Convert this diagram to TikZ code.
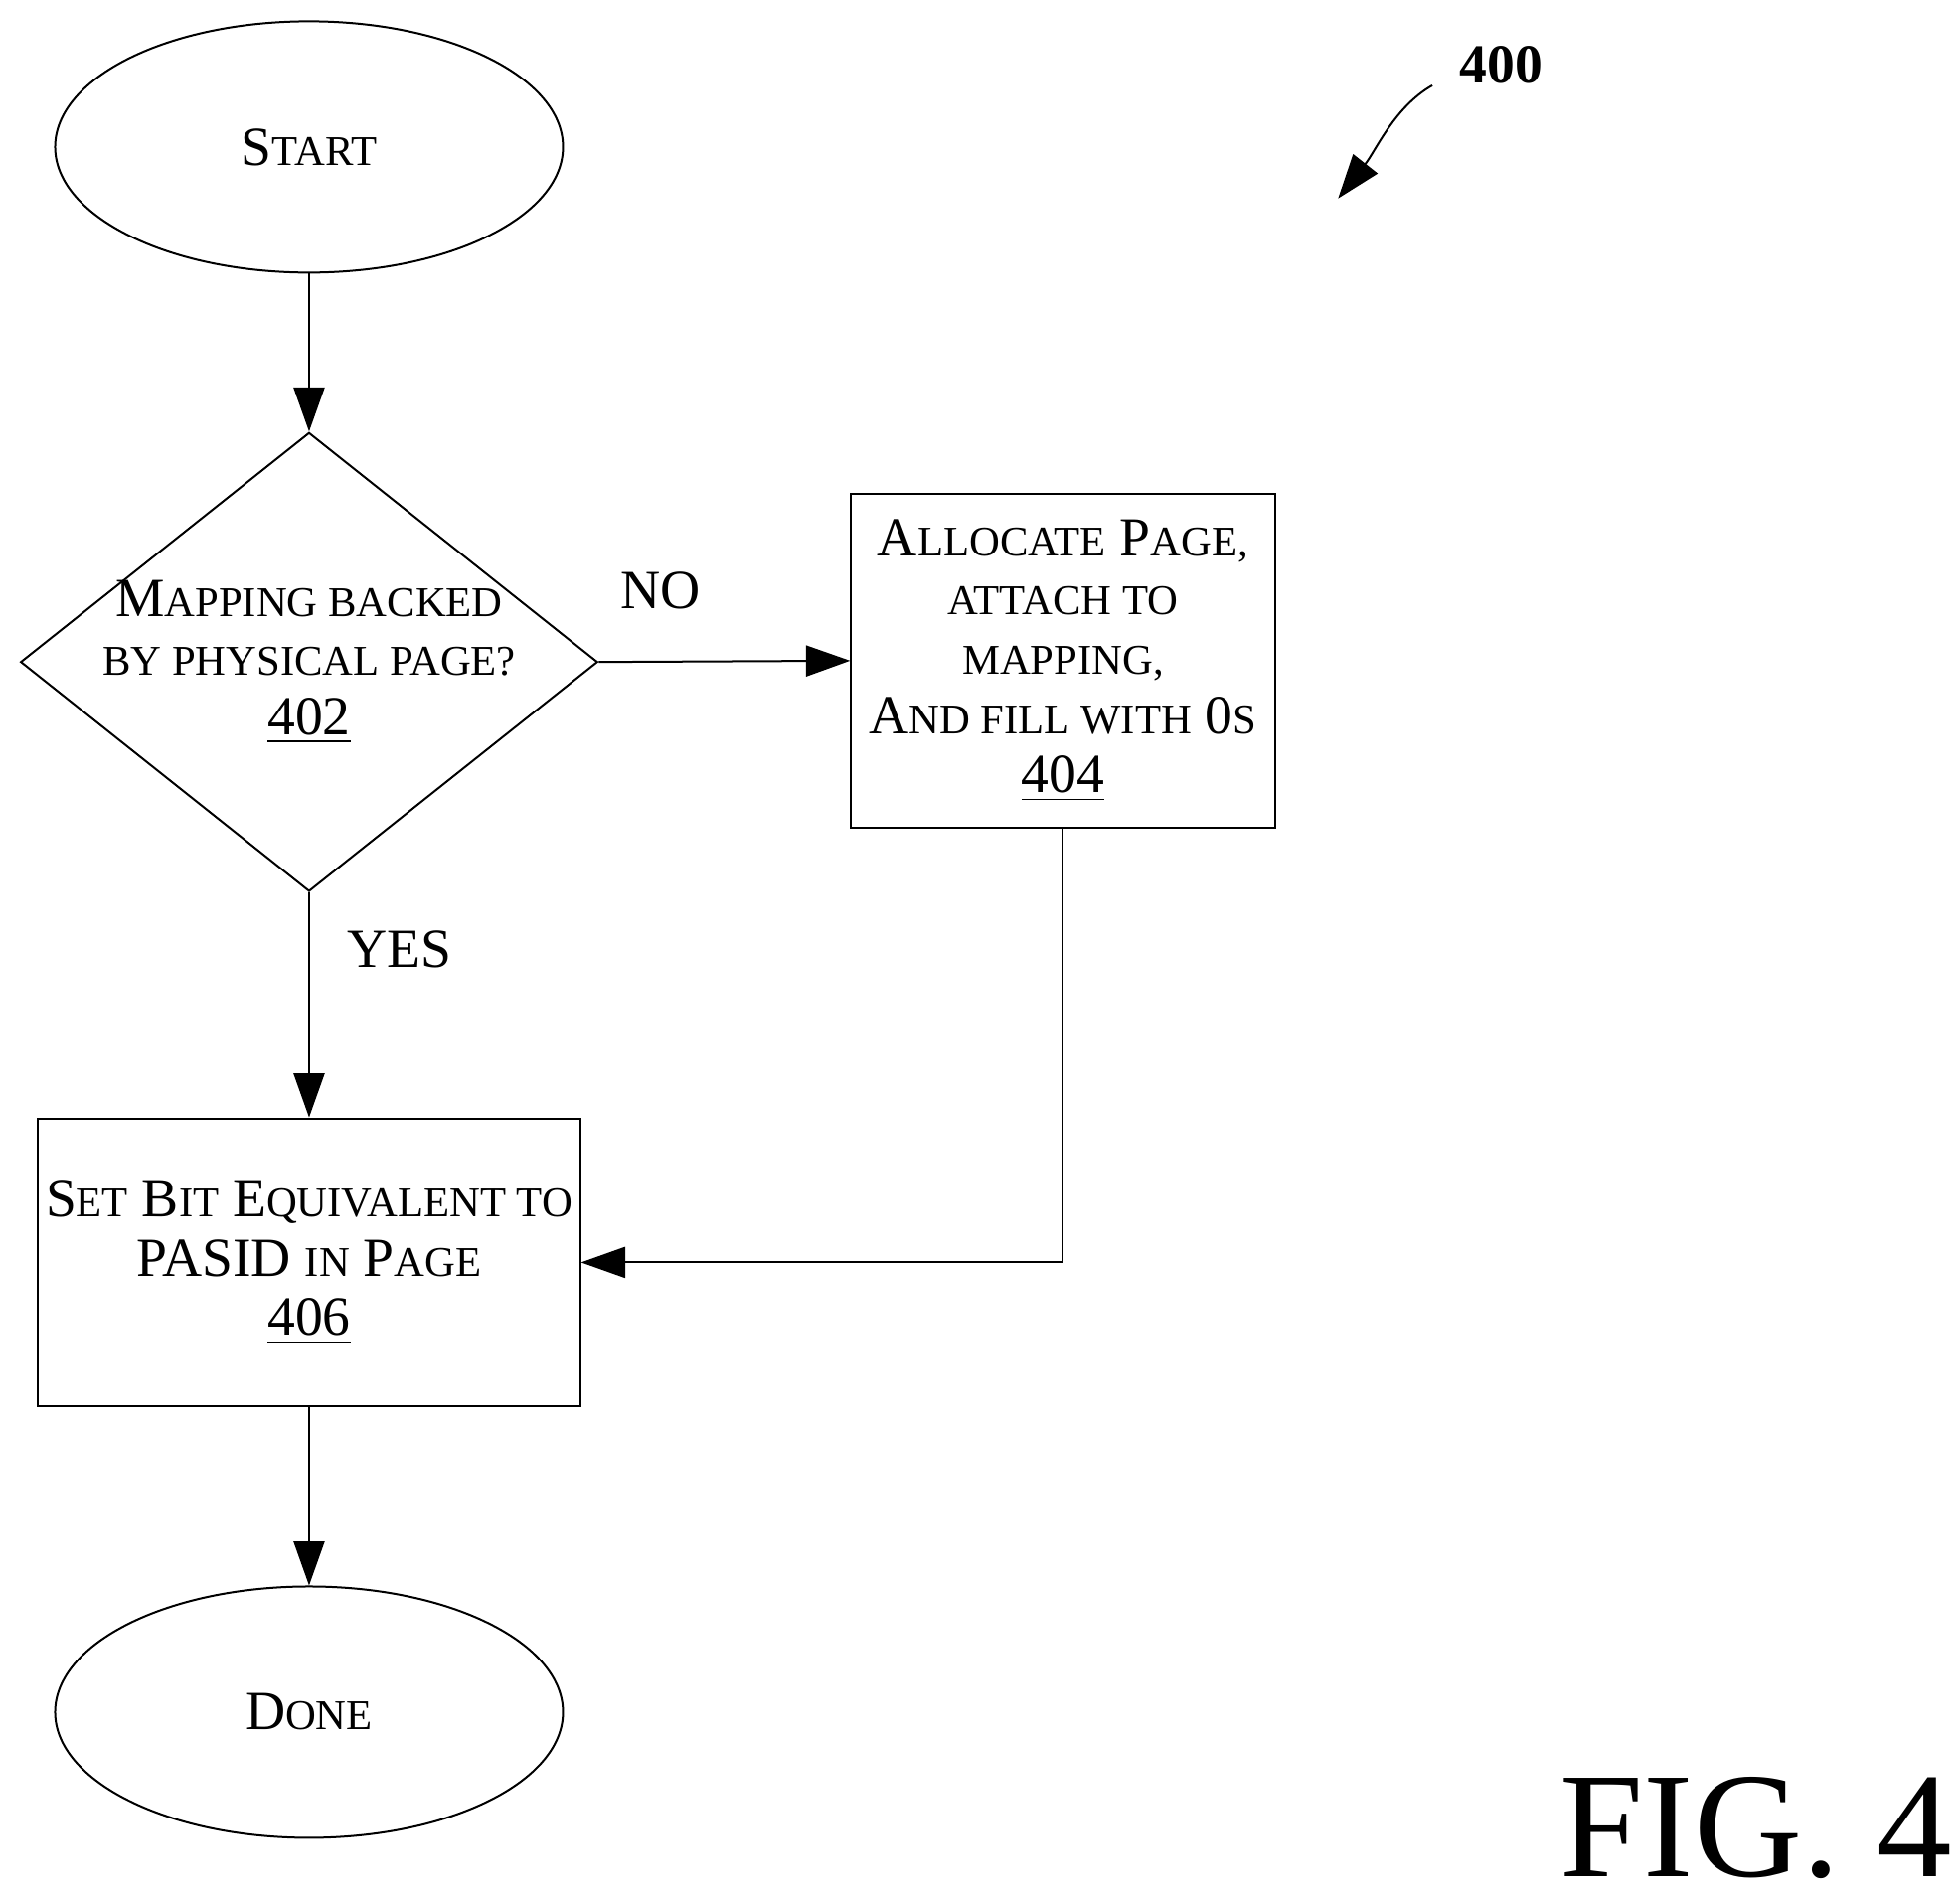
\documentclass[tikz,border=0pt]{standalone}
\usepackage{fontspec}
\setmainfont{Liberation Serif}
\usetikzlibrary{shapes.geometric,arrows.meta}
% fake small caps
\newcommand{\sm}[1]{{\fontsize{9.6}{13}\selectfont #1}}
\begin{document}
\begin{tikzpicture}[x=0.01cm, y=-0.01cm, line width=0.45pt,
  every node/.style={font=\fontsize{12.5}{13.4}\selectfont, align=center},
  term/.style={draw, ellipse, minimum width=4.04cm, minimum height=2cm},
  procbox/.style={draw, rectangle, inner sep=0pt},
  arr/.style={-{Triangle[length=10pt, width=7pt]}}]
\useasboundingbox (0,0) rectangle (1560,1510);

% 起止与判断
\node[term] (start) at (246,117) {S\sm{TART}};
\node[draw, diamond, minimum width=4.59cm, minimum height=3.65cm, aspect=1.26, inner sep=0pt] (check) at (246,527) {};
\node at (246,527) {M\sm{APPING BACKED}\\\sm{BY PHYSICAL PAGE?}\\\underline{402}};
\node[procbox, minimum width=3.37cm, minimum height=2.66cm] (alloc) at (846,526)
  {A\sm{LLOCATE} P\sm{AGE,}\\\sm{ATTACH TO}\\\sm{MAPPING,}\\A\sm{ND FILL WITH} 0\sm{S}\\\underline{404}};
\node[procbox, minimum width=4.31cm, minimum height=2.29cm] (setbit) at (246,1005)
  {S\sm{ET} B\sm{IT} E\sm{QUIVALENT TO}\\PASID \sm{IN} P\sm{AGE}\\\underline{406}};
\node[term] (done) at (246,1363) {D\sm{ONE}};

% 连线
\draw[arr] (start) -- (check);
\draw[arr] (check.east) -- (alloc.west);
\draw[arr] (check.south) -- (setbit.north);
\draw[arr] (alloc.south) |- (setbit.east);
\draw[arr] (setbit) -- (done);

% 标注
\node (no) at (526,470) {NO};
\node (yes) at (318,756) {YES};
\node (num) at (1195,52) {\textbf{400}};
\coordinate (tip) at (1065,158);
\draw[-{Triangle[length=10pt, width=7pt]}] (1140,68) .. controls (1110,85) and (1095,120) .. (tip);
\node (fig) at (1398,1455) {\fontsize{34}{36}\selectfont FIG. 4};
\end{tikzpicture}
\end{document}
